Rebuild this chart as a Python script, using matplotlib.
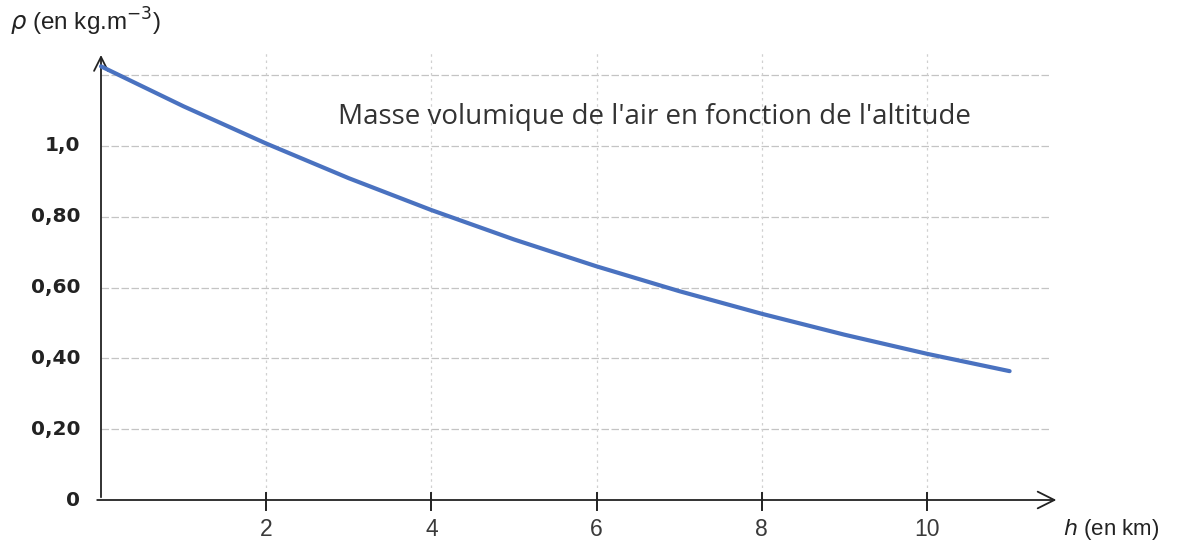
import numpy as np
import matplotlib.pyplot as plt

# altitude (km) et masse volumique de l'air (kg/m3)
altitude = [0, 1, 2, 3, 4, 5, 6, 7, 8, 9, 10, 11]
density = [1.225, 1.112, 1.007, 0.909, 0.819, 0.736, 0.660, 0.590, 0.526, 0.467, 0.413, 0.364]

x_ticks = [2, 4, 6, 8, 10]
x_labels = ['2', '4', '6', '8', '10']
y_ticks = [0, 0.2, 0.4, 0.6, 0.8, 1.0]
y_labels = ['0', '0,20', '0,40', '0,60', '0,80', '1,0']
grid_y = [0.2, 0.4, 0.6, 0.8, 1.0, 1.2]

fig = plt.figure(figsize=(11.77, 5.46), dpi=100)
W, H = 1177, 546
x0_px, y0_px = 101, 500
px_x, px_y = 82.6, 354.0
xmin, xmax = -0.3, 11.9
ymin, ymax = -0.05, 1.30
ax = fig.add_axes([(x0_px + xmin * px_x) / W, (H - y0_px + ymin * px_y) / H,
                   (xmax - xmin) * px_x / W, (ymax - ymin) * px_y / H])
ax.set_xlim(xmin, xmax)
ax.set_ylim(ymin, ymax)
for s in ax.spines.values():
    s.set_visible(False)
ax.set_xticks([])
ax.set_yticks([])

grid_kw = dict(color='#c4c4c4', lw=0.9, ls=(0, (6, 2)), zorder=1)
for g in grid_y:
    ax.plot([0, 11.5], [g, g], **grid_kw)
for t in x_ticks:
    ax.plot([t, t], [0, 1.27], **dict(grid_kw, ls=(0, (2, 3)), color='#d0d0d0'))

# axes avec flèches
ax.annotate('', xy=(11.6, 0), xytext=(-0.08, 0),
            arrowprops=dict(arrowstyle='->', lw=1.3, color='#222222',
                            mutation_scale=30), zorder=3)
ax.annotate('', xy=(0, 1.265), xytext=(0, 0),
            arrowprops=dict(arrowstyle='->', lw=1.3, color='#222222',
                            mutation_scale=25), zorder=3)

for t, lab in zip(x_ticks, x_labels):
    ax.plot([t, t], [-0.028, 0.02], color='#222222', lw=1.4, zorder=3)
    ax.text(t, -0.05, lab, ha='center', va='top', fontsize=16.5,
            color='#3a3a3a', family='Liberation Sans')
for v, lab in zip(y_ticks, y_labels):
    ax.text(-0.25, v, lab, ha='right', va='center', fontsize=14.5,
            fontweight='bold', color='#222222', family='DejaVu Sans')

ax.plot(altitude, density, color='#4a72c0', lw=3.0, zorder=4,
        solid_capstyle='round')

ax.text(6.7, 1.082, "Masse volumique de l'air en fonction de l'altitude",
        ha='center', va='center', fontsize=20, color='#333333',
        family='Open Sans')

fig.text(10 / W, 1 - 22 / H, r'$\rho$ (en kg.m$^{-3}$)', ha='left', va='center',
         fontsize=17.5, color='#222222', family='Liberation Sans')
fig.text(1111 / W, 1 - 530 / H, r'$h$ (en km)', ha='center', va='center',
         fontsize=16, color='#222222', family='Liberation Sans')

fig.savefig('out.png', dpi=100)
